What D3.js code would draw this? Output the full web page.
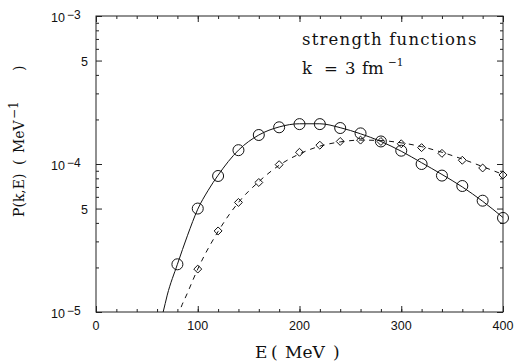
<!DOCTYPE html>
<html lang="en">
<head>
  <meta charset="UTF-8">
  <title>strength functions</title>
  <script src="https://cdn.jsdelivr.net/npm/d3@7"></script>
  <style>
    body { margin: 0; background: #fff; }
    .frame { fill: none; stroke: #222; stroke-width: 1; }
    .axis path { display: none; }
    .axis line { stroke: #222; }
    .tick-lbl { font-family: "Liberation Sans", Arial, sans-serif; font-size: 12.5px; fill: #111; }
    .title { font-family: "DejaVu Serif", "Liberation Serif", serif; fill: #111; }
  </style>
</head>
<body>
  <div id="chart"></div>
  <script>
    // measured points (circles / diamonds), E in MeV, P in MeV^-1
    const energies = [80, 100, 120, 140, 160, 180, 200, 220, 240, 260, 280, 300, 320, 340, 360, 380, 400];
    const circleVals = [2.1e-5, 5.0e-5, 8.3e-5, 1.24e-4, 1.57e-4, 1.77e-4, 1.86e-4, 1.86e-4, 1.75e-4, 1.61e-4, 1.42e-4, 1.23e-4, 1.0e-4, 8.35e-5, 7.1e-5, 5.65e-5, 4.32e-5];
    const diamondE = [100, 120, 140, 160, 180, 200, 220, 240, 260, 280, 300, 320, 340, 360, 380, 400];
    const diamondVals = [1.95e-5, 3.53e-5, 5.5e-5, 7.5e-5, 9.9e-5, 1.2e-4, 1.34e-4, 1.42e-4, 1.45e-4, 1.42e-4, 1.37e-4, 1.29e-4, 1.18e-4, 1.06e-4, 9.4e-5, 8.43e-5];

    // curves
    const solidE = [62, 66, 70, 80, 90, 100, 110, 120, 140, 160, 180, 200, 220, 240, 260, 280, 300, 320, 340, 360, 380, 400];
    const solidVals = [0.8e-5, 1.0e-5, 1.3e-5, 2.1e-5, 3.3e-5, 4.95e-5, 6.6e-5, 8.4e-5, 1.24e-4, 1.57e-4, 1.78e-4, 1.87e-4, 1.87e-4, 1.76e-4, 1.6e-4, 1.42e-4, 1.22e-4, 1.02e-4, 8.5e-5, 7.0e-5, 5.6e-5, 4.35e-5];
    const dashE = [78, 82, 90, 100, 120, 140, 160, 180, 200, 220, 240, 260, 280, 300, 320, 340, 360, 380, 400];
    const dashVals = [0.8e-5, 1.0e-5, 1.35e-5, 1.95e-5, 3.5e-5, 5.5e-5, 7.6e-5, 9.8e-5, 1.17e-4, 1.32e-4, 1.41e-4, 1.45e-4, 1.44e-4, 1.39e-4, 1.31e-4, 1.2e-4, 1.08e-4, 9.6e-5, 8.5e-5];

    const xMajor = [0, 100, 200, 300, 400];
    const xMinor = d3.range(0, 401, 20);
    const yMajor = [1e-5, 1e-4, 1e-3];
    const yMajorExp = ["\u22125", "\u22124", "\u22123"];
    const yFive = [5e-5, 5e-4];
    const yMinor = [2e-5, 3e-5, 4e-5, 6e-5, 7e-5, 8e-5, 9e-5, 2e-4, 3e-4, 4e-4, 6e-4, 7e-4, 8e-4, 9e-4];

    const w = 526, h = 364;
    const mLeft = 96, mRight = 503, mTop = 16, mBottom = 312;

    const x = d3.scaleLinear().domain([0, 400]).range([mLeft, mRight]);
    const y = d3.scaleLog().domain([1e-5, 1e-3]).range([mBottom, mTop]);

    const svg = d3.select("#chart").append("svg")
      .attr("width", w)
      .attr("height", h);

    svg.append("clipPath").attr("id", "clip")
      .append("rect")
      .attr("x", mLeft).attr("y", mTop)
      .attr("width", mRight - mLeft).attr("height", mBottom - mTop);

    // ticks on all four sides, pointing inward
    const addAxis = (axis, tx, ty, vals, size) => {
      svg.append("g")
        .attr("class", "axis")
        .attr("transform", `translate(${tx},${ty})`)
        .call(axis.tickValues(vals).tickSize(size).tickFormat(""));
    };
    addAxis(d3.axisBottom(x), 0, mBottom, xMinor, -3);
    addAxis(d3.axisBottom(x), 0, mBottom, xMajor, -6);
    addAxis(d3.axisTop(x), 0, mTop, xMinor, -3);
    addAxis(d3.axisTop(x), 0, mTop, xMajor, -6);
    addAxis(d3.axisLeft(y), mLeft, 0, yMinor, -3);
    addAxis(d3.axisLeft(y), mLeft, 0, yMajor.concat(yFive), -6);
    addAxis(d3.axisRight(y), mRight, 0, yMinor, -3);
    addAxis(d3.axisRight(y), mRight, 0, yMajor.concat(yFive), -6);

    svg.append("rect")
      .attr("class", "frame")
      .attr("x", mLeft).attr("y", mTop)
      .attr("width", mRight - mLeft).attr("height", mBottom - mTop);

    // tick labels
    svg.selectAll(".xl").data(xMajor).enter().append("text")
      .attr("class", "tick-lbl")
      .attr("x", d => x(d))
      .attr("y", mBottom + 18)
      .attr("text-anchor", "middle")
      .text(d => d);

    const yl = svg.selectAll(".yl").data(yMajor).enter().append("text")
      .attr("class", "tick-lbl")
      .attr("x", mLeft - 45)
      .attr("y", d => y(d) + 6);
    yl.append("tspan").text("10");
    yl.append("tspan").attr("dx", 2).attr("dy", -3.5).attr("font-size", "12px").text((d, i) => yMajorExp[i]);

    svg.selectAll(".y5").data(yFive).enter().append("text")
      .attr("class", "tick-lbl")
      .attr("x", mLeft - 8)
      .attr("y", d => y(d) + 5)
      .attr("text-anchor", "end")
      .text("5");

    // axis titles
    const xt = svg.append("text")
      .attr("class", "title")
      .attr("y", 358)
      .attr("font-size", "17px");
    xt.append("tspan").attr("x", 255).text("E");
    xt.append("tspan").attr("x", 271).text("(");
    xt.append("tspan").attr("x", 285).text("MeV");
    xt.append("tspan").attr("x", 333).text(")");

    const yt = svg.append("text")
      .attr("class", "title")
      .attr("transform", "translate(24,217) rotate(-90)")
      .attr("font-size", "14px");
    yt.append("tspan").attr("x", 0).text("P(k,E)");
    yt.append("tspan").attr("x", 52).text("(");
    yt.append("tspan").attr("x", 64).text("MeV");
    yt.append("tspan").attr("x", 98).attr("dy", -6).attr("font-size", "12px").text("\u22121");
    yt.append("tspan").attr("x", 146).attr("dy", 6).text(")");

    // annotation
    svg.append("text")
      .attr("class", "title")
      .attr("x", 302).attr("y", 45)
      .attr("font-size", "16.5px")
      .attr("letter-spacing", "1.2px")
      .text("strength functions");
    const k = svg.append("text")
      .attr("class", "title")
      .attr("y", 74)
      .attr("font-size", "16.5px");
    k.append("tspan").attr("x", 302).text("k");
    k.append("tspan").attr("x", 324).text("=");
    k.append("tspan").attr("x", 345).text("3");
    k.append("tspan").attr("x", 362).text("fm");
    k.append("tspan").attr("x", 388).attr("dy", -8).attr("font-size", "10.5px").text("\u22121");

    // curves
    const line = d3.line()
      .x(d => x(d[0]))
      .y(d => y(d[1]))
      .curve(d3.curveMonotoneX);

    const plot = svg.append("g").attr("clip-path", "url(#clip)");

    plot.append("path")
      .datum(d3.zip(solidE, solidVals))
      .attr("d", line)
      .attr("fill", "none")
      .attr("stroke", "#111")
      .attr("stroke-width", 1);

    plot.append("path")
      .datum(d3.zip(dashE, dashVals))
      .attr("d", line)
      .attr("fill", "none")
      .attr("stroke", "#111")
      .attr("stroke-width", 1)
      .attr("stroke-dasharray", "5,5");

    // markers
    svg.selectAll(".circ").data(d3.zip(energies, circleVals)).enter().append("circle")
      .attr("cx", d => x(d[0]))
      .attr("cy", d => y(d[1]))
      .attr("r", 5.5)
      .attr("fill", "none")
      .attr("stroke", "#111")
      .attr("stroke-width", 1);

    const diamond = d3.symbol().type(d3.symbolDiamond2).size(40);
    svg.selectAll(".dia").data(d3.zip(diamondE, diamondVals)).enter().append("path")
      .attr("d", diamond)
      .attr("transform", d => `translate(${x(d[0])},${y(d[1])})`)
      .attr("fill", "none")
      .attr("stroke", "#111")
      .attr("stroke-width", 1);
  </script>
</body>
</html>
